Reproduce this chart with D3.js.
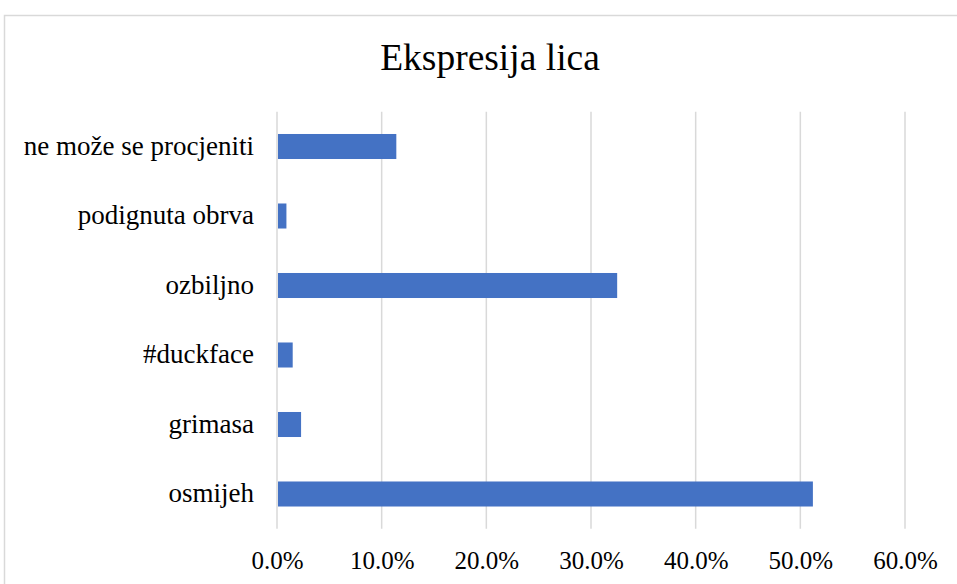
<!DOCTYPE html>
<html>
<head>
<meta charset="utf-8">
<script src="https://cdn.jsdelivr.net/npm/d3@7"></script>
<style>
  body { margin: 0; background: #fff; }
  svg text { font-family: "Liberation Serif", "Times New Roman", serif; fill: #000; }
</style>
</head>
<body>
<svg id="chart"></svg>
<script>
// categories, top to bottom as drawn
var categories = ["ne može se procjeniti", "podignuta obrva", "ozbiljno", "#duckface", "grimasa", "osmijeh"];
var values = [0.114, 0.009, 0.325, 0.015, 0.023, 0.512];
var tickValues = [0, 0.1, 0.2, 0.3, 0.4, 0.5, 0.6];
var tickLabels = ["0.0%", "10.0%", "20.0%", "30.0%", "40.0%", "50.0%", "60.0%"];
var title = "Ekspresija lica";

var W = 957, H = 584;
var plot = { left: 277, right: 905, top: 111.75, bottom: 528.75 };

var svg = d3.select("#chart")
    .attr("width", W)
    .attr("height", H);

// chart area border (cut off at the right and bottom like the picture)
svg.append("rect")
    .attr("x", 4.5)
    .attr("y", 15.5)
    .attr("width", 1100)
    .attr("height", 700)
    .attr("fill", "#fff")
    .attr("stroke", "#d9d9d9")
    .attr("stroke-width", 1.5);

var xScale = d3.scaleLinear()
    .domain([0, 0.6])
    .range([plot.left, plot.right]);

var yScale = d3.scaleBand()
    .domain(categories)
    .range([plot.top, plot.bottom])
    .paddingInner(0.64)
    .paddingOuter(0.32);

// vertical gridlines
svg.append("g")
    .selectAll("line")
    .data(tickValues)
    .enter().append("line")
    .attr("x1", function (d) { return xScale(d); })
    .attr("x2", function (d) { return xScale(d); })
    .attr("y1", plot.top)
    .attr("y2", plot.bottom)
    .attr("stroke", "#d9d9d9")
    .attr("stroke-width", 1.5);

// bars
svg.append("g")
    .selectAll("rect")
    .data(values)
    .enter().append("rect")
    .attr("x", xScale(0) + 1)
    .attr("y", function (d, i) { return yScale(categories[i]); })
    .attr("width", function (d) { return xScale(d) - xScale(0) - 1; })
    .attr("height", yScale.bandwidth())
    .attr("fill", "#4472c4");

// x axis labels
var xAxis = d3.axisBottom(xScale)
    .tickValues(tickValues)
    .tickFormat(function (d, i) { return tickLabels[i]; })
    .tickSize(0)
    .tickPadding(0);

var gx = svg.append("g")
    .attr("transform", "translate(0," + plot.bottom + ")")
    .call(xAxis);
gx.select(".domain").remove();
gx.selectAll("text")
    .attr("y", 40)
    .attr("dy", 0)
    .style("font-size", "25px")
    .style("font-family", "'Liberation Serif', serif")
    .attr("fill", "#000");

// category labels
var yAxis = d3.axisLeft(yScale)
    .tickSize(0)
    .tickPadding(0);

var gy = svg.append("g")
    .attr("transform", "translate(" + (plot.left - 23) + ",0)")
    .call(yAxis);
gy.select(".domain").remove();
gy.selectAll("text")
    .attr("dy", "0.3em")
    .style("font-size", "27px")
    .style("font-family", "'Liberation Serif', serif")
    .attr("fill", "#000");

// title
svg.append("text")
    .attr("x", 490)
    .attr("y", 70)
    .attr("text-anchor", "middle")
    .style("font-size", "37.5px")
    .text(title);
</script>
</body>
</html>
